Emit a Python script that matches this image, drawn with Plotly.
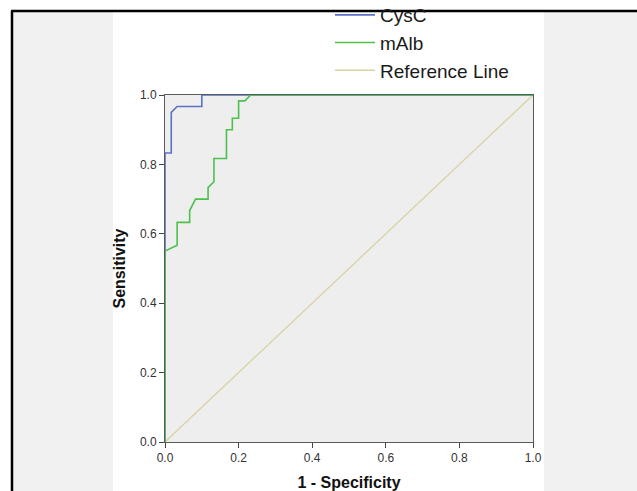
import plotly.graph_objects as go

# ROC data (x = 1 - Specificity, y = Sensitivity)
cysc_fpr = [0.0, 0.0, 0.017, 0.017, 0.033, 0.100, 0.100, 1.0]
cysc_sens = [0.0, 0.833, 0.833, 0.950, 0.967, 0.967, 1.0, 1.0]

malb_fpr = [0.0, 0.0, 0.033, 0.033, 0.067, 0.067, 0.083, 0.117, 0.117, 0.133,
            0.133, 0.167, 0.167, 0.183, 0.183, 0.200, 0.200, 0.217, 0.233, 1.0]
malb_sens = [0.0, 0.550, 0.567, 0.633, 0.633, 0.667, 0.700, 0.700, 0.733, 0.750,
             0.817, 0.817, 0.900, 0.900, 0.933, 0.933, 0.983, 0.983, 1.0, 1.0]

ref_x = [0.0, 1.0]
ref_y = [0.0, 1.0]

tick_vals = [0.0, 0.2, 0.4, 0.6, 0.8, 1.0]
tick_text = ["0.0", "0.2", "0.4", "0.6", "0.8", "1.0"]

W, H = 637, 491
L, R, T, B = 165, 104, 95, 49
PW, PH = W - L - R, H - T - B


def px_x(px):
    return (px - L) / PW


def px_y(py):
    return (H - B - py) / PH


FONT = "Arial, 'Liberation Sans', Helvetica, sans-serif"

fig = go.Figure()
fig.add_trace(go.Scatter(x=ref_x, y=ref_y, mode="lines", name="Reference Line",
                         line=dict(color="#d8d2a4", width=1.3), legendrank=3))
fig.add_trace(go.Scatter(x=cysc_fpr, y=cysc_sens, mode="lines", name="CysC",
                         line=dict(color="#5a72c2", width=1.6), legendrank=1))
fig.add_trace(go.Scatter(x=malb_fpr, y=malb_sens, mode="lines", name="mAlb",
                         line=dict(color="#4cc24c", width=1.6), legendrank=2))

shapes = [
    # light grey side panels
    dict(type="rect", xref="paper", yref="paper", x0=px_x(12), x1=px_x(113),
         y0=px_y(491), y1=px_y(12), fillcolor="#f1f1f1", line_width=0, layer="below"),
    dict(type="rect", xref="paper", yref="paper", x0=px_x(544), x1=px_x(637),
         y0=px_y(491), y1=px_y(12), fillcolor="#f1f1f1", line_width=0, layer="below"),
    # black frame (left and top)
    dict(type="line", xref="paper", yref="paper", x0=px_x(12), x1=px_x(12),
         y0=px_y(491), y1=px_y(11), line=dict(color="#000000", width=2.5), layer="above"),
    dict(type="line", xref="paper", yref="paper", x0=px_x(11), x1=px_x(637),
         y0=px_y(11), y1=px_y(11), line=dict(color="#000000", width=2.5), layer="above"),
]

axis_common = dict(
    range=[0, 1], tickvals=tick_vals, ticktext=tick_text,
    showline=True, mirror=True, linecolor="#5a5a5a", linewidth=1,
    ticks="outside", ticklen=5, tickwidth=1, tickcolor="#444444",
    showgrid=False, zeroline=False, layer="below traces",
    tickfont=dict(family=FONT, size=12, color="#333333"),
    fixedrange=True,
)

fig.update_layout(
    width=W, height=H,
    margin=dict(l=L, r=R, t=T, b=B, pad=0, autoexpand=False),
    paper_bgcolor="#ffffff",
    plot_bgcolor="#eeeeee",
    shapes=shapes,
    xaxis=dict(axis_common,
               title=dict(text="<b>1 - Specificity</b>", standoff=14,
                          font=dict(family=FONT, size=16, color="#111111"))),
    yaxis=dict(axis_common,
               title=dict(text="<b>Sensitivity</b>", standoff=10,
                          font=dict(family=FONT, size=16, color="#111111"))),
    legend=dict(x=px_x(330), y=px_y(-4), xanchor="left", yanchor="top",
                bgcolor="rgba(0,0,0,0)", borderwidth=0, itemwidth=40,
                font=dict(family=FONT, size=19, color="#1a1a1a"),
                tracegroupgap=0, traceorder="normal"),
    showlegend=True,
)

fig.write_html(
    "out.html",
    config={"displayModeBar": False, "staticPlot": True},
    post_script="document.body.style.margin='0px';document.body.style.overflow='hidden';",
)
